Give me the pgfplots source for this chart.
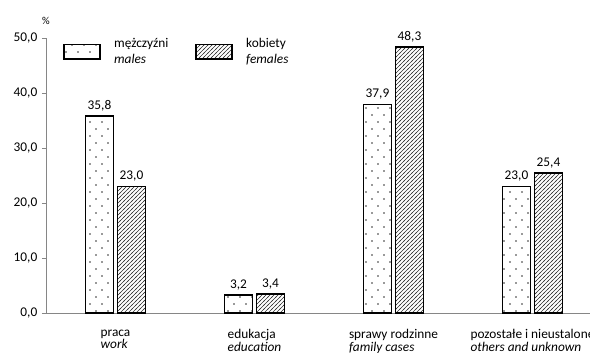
\documentclass[border=0pt]{standalone}
\usepackage{fontspec}
\setmainfont{Carlito}
\usepackage{pgfplots}
\pgfplotsset{compat=1.18}
\usetikzlibrary{patterns}
\pgfdeclarepatternformonly{sparsedots}{\pgfqpoint{-1pt}{-1pt}}{\pgfqpoint{10pt}{11.5pt}}{\pgfqpoint{9pt}{10.5pt}}{%
  \pgfpathcircle{\pgfqpoint{0pt}{0pt}}{0.65pt}%
  \pgfpathcircle{\pgfqpoint{4.5pt}{5.25pt}}{0.65pt}%
  \pgfusepath{fill}}
\pgfdeclarepatternformonly{hatch}{\pgfqpoint{-1pt}{-1pt}}{\pgfqpoint{4pt}{4pt}}{\pgfqpoint{3pt}{3pt}}{%
  \pgfsetlinewidth{0.5pt}%
  \pgfpathmoveto{\pgfqpoint{-0.5pt}{-0.5pt}}%
  \pgfpathlineto{\pgfqpoint{3.5pt}{3.5pt}}%
  \pgfusepath{stroke}}
\definecolor{axgray}{HTML}{868686}
\definecolor{dotgray}{HTML}{333333}
\definecolor{hatchgray}{HTML}{333333}
\begin{document}
\fontsize{10}{12}\selectfont
\begin{tikzpicture}
\begin{axis}[
  at={(0,0)}, anchor=south west,
  scale only axis,
  width=417pt, height=206.25pt,
  xmin=0, xmax=4, ymin=0, ymax=50,
  axis x line=bottom, axis y line=left,
  axis line style={axgray, line width=0.6pt, -},
  ytick={0,10,20,30,40,50},
  yticklabel style={/pgf/number format/.cd, fixed, fixed zerofill, precision=1, use comma, assume math mode=true},
  tick align=outside,
  major tick length=3pt,
  tick style={axgray, line width=0.6pt},
  xtick={0.5,1.5,2.5,3.5},
  xticklabels={{praca\\\textit{work}},{edukacja\\\textit{education}},{sprawy rodzinne\\\textit{family cases}},{pozostałe i nieustalone\\\textit{others and unknown}}},
  x tick style={draw=none},
  minor xtick={1,2,3},
  minor x tick style={axgray, line width=0.6pt},
  minor tick length=4pt,
  xticklabel style={align=left, font=\fontsize{10}{9.5}\selectfont, yshift=-6pt},
  ybar=3pt, bar width=21pt,
  nodes near coords,
  nodes near coords style={font=\fontsize{10}{12}\selectfont, /pgf/number format/.cd, fixed, fixed zerofill, precision=1, use comma, assume math mode=true},
  clip=false,
  legend columns=2,
  legend cell align=left,
  legend style={draw=none, fill=none, at={(rel axis cs:0.03,1.01)}, anchor=north west, inner sep=0pt,
    cells={align=left, font=\fontsize{10}{12}\selectfont},
    /tikz/every even column/.append style={column sep=18pt},
    /tikz/every odd column/.append style={column sep=8pt}},
  legend image code/.code={\draw[#1] (0pt,-5.5pt) rectangle (27pt,5.5pt);},
]
\addplot[draw=black, line width=1.4pt, fill=none, preaction={pattern=sparsedots, pattern color=dotgray}] coordinates {(0.5,35.8) (1.5,3.2) (2.5,37.9) (3.5,23.0)};
\addplot[draw=black, line width=1.4pt, fill=none, preaction={pattern=hatch, pattern color=hatchgray}] coordinates {(0.5,23.0) (1.5,3.4) (2.5,48.3) (3.5,25.4)};
\legend{{mężczyźni\\\textit{males}},{kobiety\\\textit{females}}}
\node[anchor=base, font=\fontsize{8}{9}\selectfont, yshift=10pt] at (rel axis cs:0,1) {\%};
\end{axis}
\pgfresetboundingbox
\useasboundingbox (-34.5pt,-30pt) rectangle (408pt,234.75pt);
\end{tikzpicture}
\end{document}
